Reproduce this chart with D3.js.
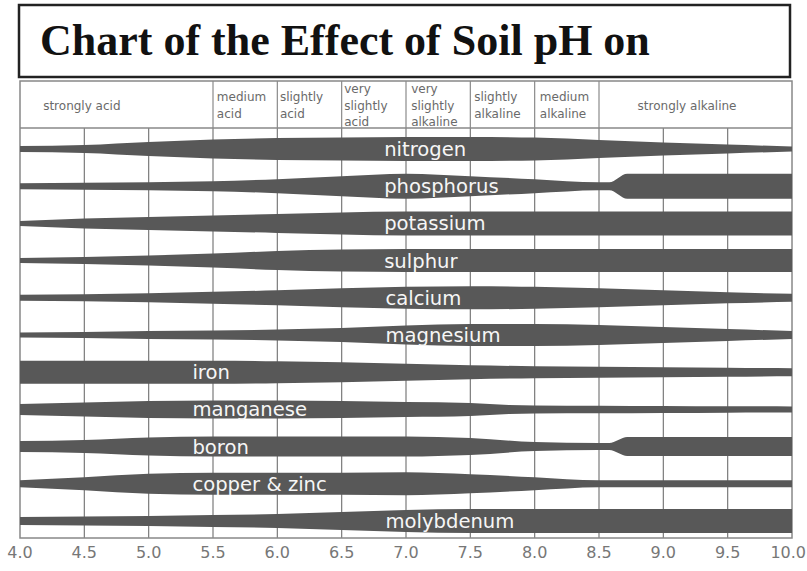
<!DOCTYPE html>
<html>
<head>
<meta charset="utf-8">
<script src="https://cdn.jsdelivr.net/npm/d3@7"></script>
<style>
  body { margin: 0; background: #fff; }
</style>
</head>
<body>
<div id="chart"></div>
<script>
// pH ticks along the bottom
const phTicks = [4.0, 4.5, 5.0, 5.5, 6.0, 6.5, 7.0, 7.5, 8.0, 8.5, 9.0, 9.5, 10.0];

// soil reaction zones in the header row
const zoneBreaks = [4.0, 5.5, 6.0, 6.5, 7.0, 7.5, 8.0, 8.5, 10.0];
const zoneNames = [
    ["strongly acid"],
    ["medium", "acid"],
    ["slightly", "acid"],
    ["very", "slightly", "acid"],
    ["very", "slightly", "alkaline"],
    ["slightly", "alkaline"],
    ["medium", "alkaline"],
    ["strongly alkaline"]
];
const zoneLabelPH = [4.18, 5.53, 6.02, 6.52, 7.04, 7.53, 8.04, 8.80];

// nutrients, top to bottom, and where the label starts (pH)
const nutrients = ["nitrogen", "phosphorus", "potassium", "sulphur", "calcium", "magnesium",
    "iron", "manganese", "boron", "copper & zinc", "molybdenum"];
const labelPH = [6.83, 6.83, 6.83, 6.83, 6.84, 6.84, 5.34, 5.34, 5.34, 5.34, 6.84];

// availability (0-10) at pH
const nitrogen = [[4.0,2.4],[4.5,3.2],[5.0,5.6],[5.5,7.6],[6.0,8.8],[6.5,9.2],[7.0,9.6],[7.5,9.6],[8.0,9.2],[8.5,7.2],[9.0,5.2],[9.5,3.6],[10.0,2.0]];
const phosphorus = [[4.0,2.4],[4.5,2.8],[5.0,3.2],[5.5,4.0],[6.0,5.6],[6.5,8.0],[7.0,10],[7.5,8.0],[8.0,5.6],[8.5,3.2],[8.58,3.2],[8.72,10],[10.0,10]];
const potassium = [[4.0,2.0],[4.5,4.0],[5.0,5.2],[5.5,6.4],[6.0,7.6],[6.5,8.8],[7.0,9.6],[10.0,9.6]];
const sulphur = [[4.0,2.0],[4.5,2.8],[5.0,4.0],[5.5,5.6],[6.0,7.6],[6.5,8.8],[7.0,9.2],[10.0,9.2]];
const calcium = [[4.0,2.4],[4.5,2.8],[5.0,3.6],[5.5,4.8],[6.0,6.0],[6.5,7.6],[7.0,8.8],[7.5,9.2],[8.0,8.8],[8.5,7.6],[9.0,6.0],[9.5,4.4],[10.0,3.2]];
const magnesium = [[4.0,2.0],[4.5,2.4],[5.0,3.2],[5.5,3.6],[6.0,4.4],[6.5,5.6],[7.0,7.6],[7.5,8.8],[8.0,8.8],[8.5,8.0],[9.0,6.4],[9.5,4.8],[10.0,3.2]];
const iron = [[4.0,9.2],[4.5,9.2],[5.0,9.2],[5.5,9.2],[6.0,8.8],[6.5,8.0],[7.0,6.8],[7.5,5.6],[8.0,4.8],[8.5,4.4],[9.0,4.0],[9.5,3.6],[10.0,3.2]];
const manganese = [[4.0,4.4],[4.5,5.6],[5.0,6.8],[5.5,7.2],[6.0,7.2],[6.5,6.8],[7.0,6.0],[7.5,5.2],[7.8,3.6],[8.0,3.2],[8.5,3.0],[9.0,2.8],[9.5,2.6],[10.0,2.4]];
const boron = [[4.0,4.4],[4.5,5.2],[5.0,7.2],[5.5,8.0],[6.0,8.0],[6.5,8.0],[7.0,8.0],[7.5,6.8],[8.0,3.6],[8.5,2.8],[8.58,2.8],[8.72,7.6],[10.0,7.6]];
const copperZinc = [[4.0,2.8],[4.5,5.2],[5.0,8.0],[5.5,8.8],[6.0,8.8],[6.5,8.8],[7.0,9.2],[7.5,7.6],[8.0,5.2],[8.5,2.8],[9.0,2.8],[10.0,2.8]];
const molybdenum = [[4.0,3.2],[4.5,3.6],[5.0,4.0],[5.5,4.8],[6.0,5.6],[6.5,7.2],[7.0,8.8],[7.5,9.6],[10.0,9.6]];

const profiles = [nitrogen, phosphorus, potassium, sulphur, calcium, magnesium,
    iron, manganese, boron, copperZinc, molybdenum];

function createSoilChart() {
    const width = 807, height = 571;
    const top = 81, headerBottom = 128, bottom = 538;

    const svg = d3.select("#chart")
        .append("svg")
        .attr("width", width)
        .attr("height", height);

    const x = d3.scaleLinear().domain([4, 10]).range([20, 792]);
    const y = d3.scalePoint().domain(nutrients).range([149, 521]);
    const thick = d3.scaleLinear().domain([0, 10]).range([0, 25]);

    //title box
    svg.append("rect")
        .attr("x", 19).attr("y", 5)
        .attr("width", 771).attr("height", 72)
        .attr("fill", "#fff")
        .attr("stroke", "#222")
        .attr("stroke-width", 2.5);

    svg.append("text")
        .attr("x", 40).attr("y", 55)
        .attr("font-family", "'Liberation Serif', 'Times New Roman', serif")
        .attr("font-weight", "bold")
        .attr("font-size", "44px")
        .attr("fill", "#111")
        .text("Chart of the Effect of Soil pH on");

    //gridlines in the band area
    svg.append("g")
        .selectAll("line")
        .data(phTicks.slice(1, -1))
        .enter()
        .append("line")
        .attr("x1", d => x(d)).attr("x2", d => x(d))
        .attr("y1", headerBottom).attr("y2", bottom)
        .attr("stroke", "#7a7a7a")
        .attr("stroke-width", 1.2);

    //header separators
    svg.append("g")
        .selectAll("line")
        .data(zoneBreaks.slice(1, -1))
        .enter()
        .append("line")
        .attr("x1", d => x(d)).attr("x2", d => x(d))
        .attr("y1", top).attr("y2", headerBottom)
        .attr("stroke", "#8a8a8a")
        .attr("stroke-width", 1.2);

    //frame
    svg.append("rect")
        .attr("x", x(4)).attr("y", top)
        .attr("width", x(10) - x(4)).attr("height", bottom - top)
        .attr("fill", "none")
        .attr("stroke", "#888")
        .attr("stroke-width", 1.5);

    svg.append("line")
        .attr("x1", x(4)).attr("x2", x(10))
        .attr("y1", headerBottom).attr("y2", headerBottom)
        .attr("stroke", "#888")
        .attr("stroke-width", 1.5);

    //header labels
    const lineH = 16.5, headMid = (top + headerBottom) / 2 + 1;
    zoneNames.forEach((lines, i) => {
        const t = svg.append("text")
            .attr("x", x(zoneLabelPH[i]))
            .attr("font-family", "'DejaVu Sans', sans-serif")
            .attr("font-size", "12px")
            .attr("fill", "#6a6a6a");
        lines.forEach((ln, j) => {
            t.append("tspan")
                .attr("x", x(zoneLabelPH[i]))
                .attr("y", headMid + (j - (lines.length - 1) / 2) * lineH + 4)
                .text(ln);
        });
    });

    //bands
    const area = d3.area()
        .x(d => x(d[0]))
        .curve(d3.curveMonotoneX);

    const bands = svg.append("g");
    nutrients.forEach((name, i) => {
        const cy = y(name);
        bands.append("path")
            .datum(profiles[i])
            .attr("d", area.y0(d => cy - thick(d[1]) / 2).y1(d => cy + thick(d[1]) / 2))
            .attr("fill", "#585858");

        bands.append("text")
            .attr("x", x(labelPH[i]))
            .attr("y", cy + 7)
            .attr("font-family", "'DejaVu Sans', sans-serif")
            .attr("font-size", "19.6px")
            .attr("fill", "#f6f6f6")
            .text(name);
    });

    //x axis labels (last one kept inside the page edge)
    const last = phTicks.length - 1;
    svg.append("g")
        .selectAll("text")
        .data(phTicks)
        .enter()
        .append("text")
        .attr("x", (d, i) => i === last ? width - 1 : x(d))
        .attr("y", 558)
        .attr("text-anchor", (d, i) => i === last ? "end" : "middle")
        .attr("font-family", "'DejaVu Sans', sans-serif")
        .attr("font-size", "16px")
        .attr("fill", "#777")
        .text(d => d.toFixed(1));
}

createSoilChart();
</script>
</body>
</html>
